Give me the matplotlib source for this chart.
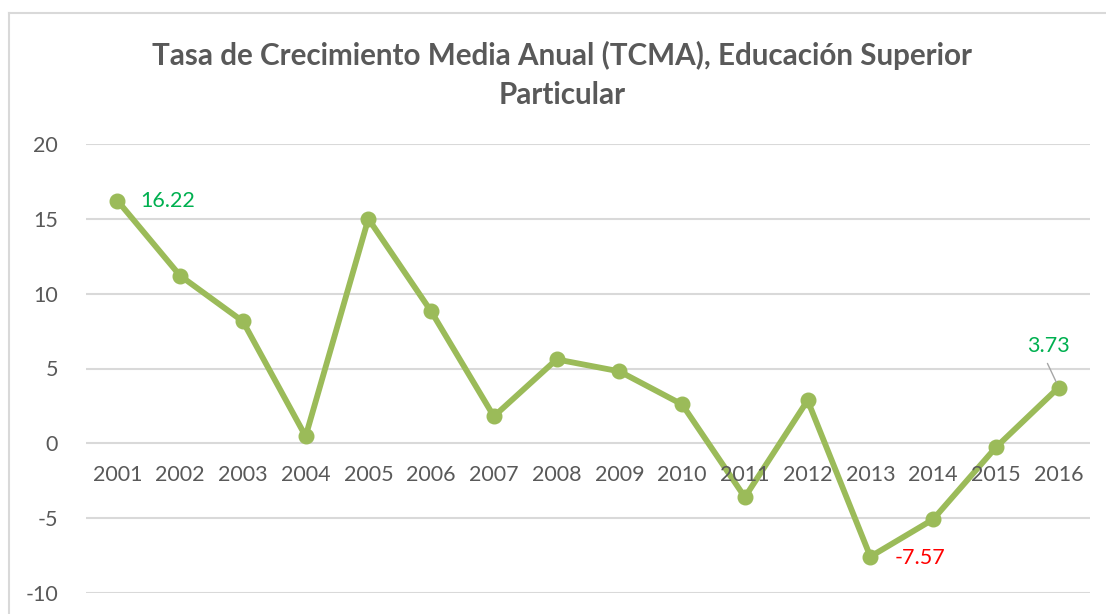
import matplotlib
matplotlib.use("Agg")
import matplotlib.pyplot as plt
from matplotlib.lines import Line2D

years = ["2001", "2002", "2003", "2004", "2005", "2006", "2007", "2008",
         "2009", "2010", "2011", "2012", "2013", "2014", "2015", "2016"]
tcma = [16.22, 11.2, 8.15, 0.47, 15.0, 8.82, 1.8, 5.61,
        4.81, 2.6, -3.6, 2.87, -7.57, -5.08, -0.27, 3.73]
yticks = [-10, -5, 0, 5, 10, 15, 20]
title = "Tasa de Crecimiento Media Anual (TCMA), Educación Superior\nParticular"

plt.rcParams['font.family'] = ['Lato', 'DejaVu Sans']
text_color = "#595959"
line_color = "#9BBB59"
grid_color = "#D9D9D9"

fig = plt.figure(figsize=(11.06, 6.14), dpi=100)
W, H = 1106, 614
ax = fig.add_axes([86 / W, 1 - 593 / H, (1090 - 86) / W, (593 - 144) / H])

x = list(range(len(years)))
ax.plot(x, tcma, color=line_color, lw=4.2, marker='o', markersize=10.5,
        solid_capstyle='round', solid_joinstyle='round', zorder=3)

ax.set_xlim(-0.5, len(years) - 0.5)
ax.set_ylim(-10, 20)
ax.set_yticks(yticks)
ax.set_yticklabels([str(v) for v in yticks])
for y in yticks:
    ax.axhline(y, color=grid_color, lw=1.5, zorder=1)

for s in ax.spines.values():
    s.set_visible(False)
ax.tick_params(axis='y', length=0, pad=20, labelsize=15.5, labelcolor=text_color)
ax.set_xticks([])

for xi, lab in zip(x, years):
    ax.annotate(lab, (xi, 0), xytext=(0, -22.5), textcoords='offset points',
                ha='center', va='center', fontsize=15.5, color=text_color)

# data labels
ax.annotate("16.22", (x[0], tcma[0]), xytext=(36, 0), textcoords='offset points',
            ha='center', va='center', fontsize=15.5, color="#00B050")
ax.annotate("-7.57", (x[12], tcma[12]), xytext=(36, -1), textcoords='offset points',
            ha='center', va='center', fontsize=15.5, color="#FF0000")
ax.annotate("3.73", (x[15], tcma[15]), xytext=(-7, 30), textcoords='offset points',
            ha='center', va='center', fontsize=15.5, color="#00B050")
ax.annotate("", (x[15] - 0.02, tcma[15] + 0.2), xytext=(-8, 17), textcoords='offset points',
            arrowprops=dict(arrowstyle='-', color='#A6A6A6', lw=1))

fig.text(562 / W, 1 - 75 / H, title, ha='center', va='center', fontsize=21.3,
         fontweight='bold', color=text_color, linespacing=1.5)

# chart border
fig.add_artist(Line2D([9 / W, 1.0], [1 - 13 / H, 1 - 13 / H], transform=fig.transFigure,
                      color=grid_color, lw=1.5))
fig.add_artist(Line2D([9 / W, 9 / W], [1 - 13 / H, 0], transform=fig.transFigure,
                      color=grid_color, lw=1.5))

fig.savefig("out.png", dpi=100)
